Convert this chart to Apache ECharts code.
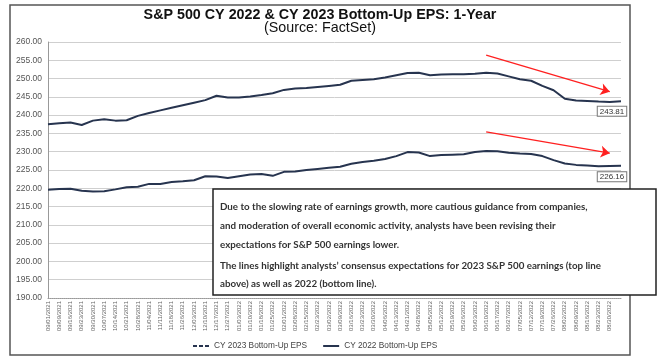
<!DOCTYPE html>
<html><head><meta charset="utf-8">
<script src="https://cdn.jsdelivr.net/npm/echarts@6/dist/echarts.min.js"></script>
<style>html,body{margin:0;padding:0;background:#fff}#c{width:659px;height:361px}</style>
</head><body><div id="c"></div>
<script>
// x-axis categories (weekly labels; last point is the latest reading, label hidden)
const categories = ['09/01/2021','09/09/2021','09/16/2021','09/23/2021','09/30/2021','10/07/2021','10/14/2021','10/21/2021','10/28/2021','11/04/2021','11/11/2021','11/18/2021','11/26/2021','12/03/2021','12/10/2021','12/17/2021','12/27/2021','01/03/2022','01/10/2022','01/18/2022','01/25/2022','02/01/2022','02/08/2022','02/15/2022','02/23/2022','03/02/2022','03/09/2022','03/16/2022','03/23/2022','03/30/2022','04/06/2022','04/13/2022','04/21/2022','04/28/2022','05/05/2022','05/12/2022','05/19/2022','05/26/2022','06/03/2022','06/10/2022','06/17/2022','06/27/2022','07/05/2022','07/12/2022','07/19/2022','07/26/2022','08/02/2022','08/09/2022','08/16/2022','08/23/2022','08/30/2022','09/01/2022'];
const shownLabelCount = 51;

// CY 2023 Bottom-Up EPS
const eps2023 = [237.5,237.8,238.0,237.3,238.5,238.9,238.5,238.6,239.8,240.6,241.3,242.0,242.7,243.4,244.1,245.3,244.8,244.8,245.1,245.5,246.0,246.9,247.3,247.4,247.7,248.0,248.3,249.4,249.6,249.8,250.3,250.9,251.5,251.6,250.9,251.1,251.2,251.2,251.3,251.6,251.4,250.6,249.8,249.4,248.0,246.8,244.5,244.0,243.9,243.7,243.6,243.81];
// CY 2022 Bottom-Up EPS
const eps2022 = [219.6,219.8,219.9,219.3,219.1,219.2,219.7,220.3,220.4,221.2,221.2,221.7,221.9,222.2,223.3,223.2,222.8,223.3,223.8,223.9,223.4,224.5,224.6,225.0,225.3,225.6,225.9,226.7,227.2,227.5,228.0,228.8,229.9,229.8,228.8,229.1,229.2,229.3,229.9,230.2,230.1,229.7,229.5,229.4,228.8,227.7,226.8,226.4,226.2,226.0,226.1,226.16];

// y-axis ticks
const yMin = 190, yMax = 260, yStep = 5;

// trend arrows (category index, value)
const arrowTop = [[39, 256.4], [50, 246.4]];
const arrowBottom = [[39, 235.4], [50, 229.6]];

const seriesNames = ['CY 2023 Bottom-Up EPS', 'CY 2022 Bottom-Up EPS'];
const notePara1 = [
  'Due to the slowing rate of earnings growth, more cautious guidance from companies,',
  'and moderation of overall economic activity, analysts have been revising their',
  'expectations for S&P 500 earnings lower.'
];
const notePara2 = [
  'The lines highlight analysts\u2019 consensus expectations for 2023 S&P 500 earnings (top line',
  'above) as well as 2022 (bottom line).'
];

const noteFont = 'Lato';
const noteWeight = 'bold';
const mctx = document.createElement('canvas').getContext('2d');
mctx.font = noteWeight + ' 10px ' + noteFont;
const noteSize = 10 * 368 / mctx.measureText(notePara1[0]).width;

const lineColor = '#27344f';
function endMark(arr, dist) {
  const last = arr.length - 1;
  return {
    silent: true, animation: false,
    symbol: 'rect', symbolSize: 1, itemStyle: { color: 'rgba(0,0,0,0)' },
    label: {
      show: true, position: 'bottom', distance: dist, offset: [-9, 0],
      formatter: p => Number(p.value).toFixed(2),
      fontSize: 8, fontFamily: 'Liberation Sans', color: '#333',
      backgroundColor: '#fff', borderColor: '#777', borderWidth: 1,
      padding: [1, 2, 0, 2]
    },
    emphasis: { disabled: true },
    data: [{ coord: [categories[last], arr[last]], value: arr[last] }]
  };
}
function arrow(a) {
  return {
    silent: true, animation: false,
    symbol: ['none', 'arrow'], symbolSize: 9,
    label: { show: false },
    lineStyle: { color: '#ff2020', width: 1.3, type: 'solid' },
    emphasis: { disabled: true },
    data: [[{ coord: [categories[a[0][0]], a[0][1]] }, { coord: [categories[a[1][0]], a[1][1]] }]]
  };
}

const chart = echarts.init(document.getElementById('c'), null, { renderer: 'canvas' });
chart.setOption({
  animation: false,
  backgroundColor: '#fff',
  title: [
    { text: 'S&P 500 CY 2022 & CY 2023 Bottom-Up EPS: 1-Year', left: 320, top: 8, textAlign: 'center', padding: 0,
      textStyle: { fontFamily: 'Liberation Sans', fontSize: 14.3, fontWeight: 'bold', color: '#111' } },
    { text: '(Source: FactSet)', left: 320, top: 21, textAlign: 'center', padding: 0,
      textStyle: { fontFamily: 'Liberation Sans', fontSize: 14.3, fontWeight: 'normal', color: '#111' } }
  ],
  legend: {
    left: 193, top: 342, itemWidth: 16, itemHeight: 2, itemGap: 16, padding: 0,
    textStyle: { fontFamily: 'Liberation Sans', fontSize: 8.3, color: '#444' },
    data: [
      { name: seriesNames[0], icon: 'path://M0,0h4v2h-4zM6,0h4v2h-4zM12,0h4v2h-4z' },
      { name: seriesNames[1], icon: 'path://M0,0h16v2h-16z' }
    ]
  },
  grid: { left: 48, right: 38, top: 42, bottom: 63 },
  xAxis: {
    type: 'category', boundaryGap: false, data: categories,
    axisLine: { lineStyle: { color: '#999', type: [1, 1], width: 1 } },
    axisTick: { show: false },
    axisLabel: {
      rotate: 90, fontSize: 6, color: '#666', fontFamily: 'Liberation Sans', margin: 3,
      interval: (idx) => idx < shownLabelCount
    },
    splitLine: { show: false }
  },
  yAxis: {
    type: 'value', min: yMin, max: yMax, interval: yStep,
    axisLine: { show: true, lineStyle: { color: '#999' } },
    axisTick: { show: false },
    axisLabel: { fontSize: 8.5, color: '#555', fontFamily: 'Liberation Sans', margin: 6, formatter: v => v.toFixed(2) },
    splitLine: { lineStyle: { color: '#cfcfcf', width: 1 } }
  },
  series: [
    { name: seriesNames[0], type: 'line', symbol: 'none', data: eps2023,
      lineStyle: { color: lineColor, width: 2 }, itemStyle: { color: lineColor },
      markLine: arrow(arrowTop), markPoint: endMark(eps2023, 5) },
    { name: seriesNames[1], type: 'line', symbol: 'none', data: eps2022,
      lineStyle: { color: lineColor, width: 2 }, itemStyle: { color: lineColor },
      markLine: arrow(arrowBottom), markPoint: endMark(eps2022, 6) }
  ],
  graphic: [
    { type: 'rect', z: -1, silent: true, shape: { x: 10, y: 5, width: 620, height: 350 },
      style: { fill: 'none', stroke: '#555', lineWidth: 1.5 } },
    { type: 'rect', z: 100, silent: true, shape: { x: 213, y: 189, width: 443, height: 106 },
      style: { fill: '#fff', stroke: '#222', lineWidth: 1.5 } },
    { type: 'text', z: 101, silent: true, x: 220, y: 197.5,
      style: { text: notePara1.join('\n'), fontFamily: noteFont, fontWeight: noteWeight, fontSize: noteSize, lineHeight: 19,
        fill: '#333', textVerticalAlign: 'top' } },
    { type: 'text', z: 101, silent: true, x: 220, y: 256.5,
      style: { text: notePara2.join('\n'), fontFamily: noteFont, fontWeight: noteWeight, fontSize: noteSize, lineHeight: 18.5,
        fill: '#333', textVerticalAlign: 'top' } }
  ]
});
</script>
</body></html>
